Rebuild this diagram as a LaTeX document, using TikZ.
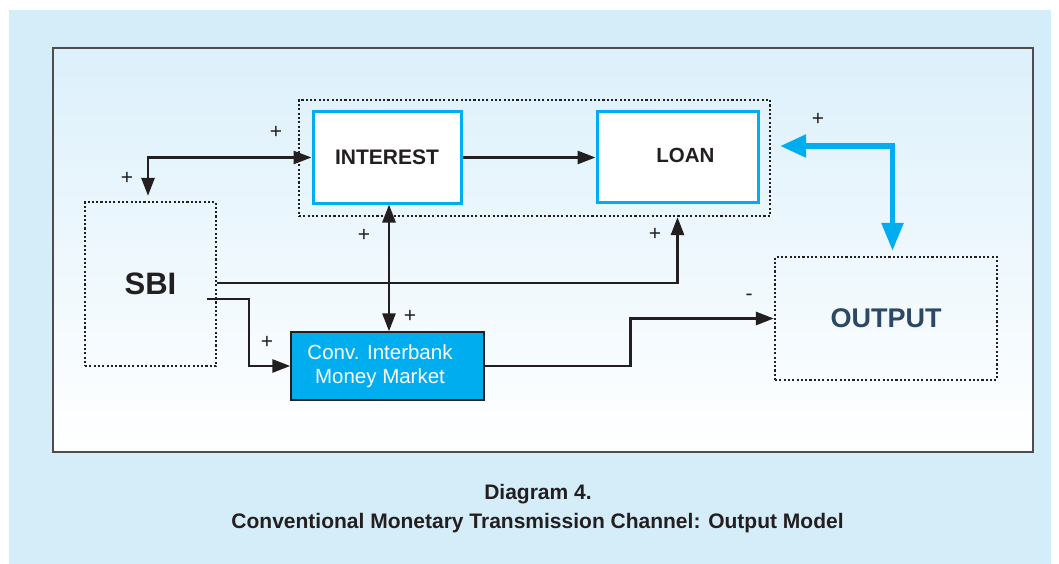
\documentclass[tikz,border=0pt]{standalone}
\usepackage{fontspec}
\setmainfont{Liberation Sans}
\usetikzlibrary{arrows.meta}
\definecolor{panel}{RGB}{212,237,249}
\definecolor{innertop}{RGB}{220,240,251}
\definecolor{cyanb}{RGB}{0,174,239}
\definecolor{outtxt}{RGB}{44,72,100}
\definecolor{ink}{RGB}{35,31,32}
\tikzset{
  blueframe/.style={draw=cyanb, line width=3pt, fill=white, inner sep=0pt},
  dotbox/.style={draw=ink, line width=2.3pt, dash pattern=on 2.1pt off 2.2pt, inner sep=0pt},
  arr/.style={draw=ink, line width=2.8pt, -{Triangle[length=18pt,width=13pt]}},
  dblarr/.style={draw=ink, line width=2.8pt, {Triangle[length=18pt,width=13pt]}-{Triangle[length=18pt,width=13pt]}},
  bluearr/.style={draw=cyanb, line width=5.5pt, {Triangle[length=26pt,width=22pt]}-{Triangle[length=28pt,width=21pt]}},
  sign/.style={text=ink, font=\fontsize{21}{21}\selectfont, inner sep=0pt},
  caption/.style={text=ink, font=\bfseries\fontsize{21}{25}\selectfont, inner sep=0pt, anchor=base},
}
\begin{document}
\begin{tikzpicture}[x=1pt, y=-1pt]
\useasboundingbox (0,0) rectangle (1059,564);
\fill[panel] (9,10) rectangle (1051,564);
\shade[top color=innertop, bottom color=white, draw=ink!80, line width=1.4pt] (53,48) rectangle (1033,452);

% boxes
\node[dotbox, minimum width=471pt, minimum height=116pt] (group) at (534.5,158) {};
\node[blueframe, minimum width=148pt, minimum height=91pt, text=ink, font=\bfseries\fontsize{21}{21}\selectfont] (interest) at (387,157.5) {INTEREST};
\node[blueframe, minimum width=161pt, minimum height=90pt] (loan) at (677.5,157) {};
\node[text=ink, font=\bfseries\fontsize{20.5}{20.5}\selectfont, inner sep=0pt] (loantext) at (685.5,155) {LOAN};
\node[dotbox, minimum width=131pt, minimum height=164pt, text=ink, font=\bfseries\fontsize{31}{31}\selectfont] (sbi) at (150.5,284) {SBI};
\node[draw=ink, line width=1.4pt, fill=cyanb, minimum width=193pt, minimum height=68pt, inner sep=0pt] (conv) at (387.5,366) {};
\node[text=white, align=center, font=\fontsize{20.5}{24}\selectfont, inner sep=0pt] (convtext) at (380,366) {Conv. Interbank\\Money Market};
\node[dotbox, minimum width=222pt, minimum height=123pt, text=outtxt, font=\bfseries\fontsize{27}{27}\selectfont] (output) at (886,318.5) {OUTPUT};

% connectors
\draw[dblarr] ([shift={(-2.5,-5)}]sbi.north) |- (interest.west);
\draw[arr] (interest.east) -- (interest.east -| loan.west);
\draw[dblarr] ([xshift=2pt]interest.south) -- ([xshift=2pt]interest.south |- conv.north);
\draw[arr] ([yshift=1pt]sbi.east) -| (loan.south |- group.south);
\coordinate (sbiout) at (207,299);
\draw[arr] (sbiout) -- ++(42,0) |- (conv.west);
\draw[arr] (conv.east) -- ++(146,0) |- (output.west);
\draw[bluearr] ([shift={(9,-12)}]group.east) -| ([shift={(6.5,-5)}]output.north);

% signs
\node[sign] (s1) at (276,132) {+};
\node[sign] (s2) at (127,178) {+};
\node[sign] (s3) at (364,235) {+};
\node[sign] (s4) at (410,316) {+};
\node[sign] (s5) at (267,342) {+};
\node[sign] (s6) at (655,234) {+};
\node[sign] (s7) at (818,119) {+};
\node[sign] (s8) at (749,297) {-};

% caption
\node[caption] (cap1) at (538,499) {Diagram 4.};
\node[caption] (cap2) at (537.5,528) {Conventional Monetary Transmission Channel: Output Model};
\end{tikzpicture}
\end{document}
